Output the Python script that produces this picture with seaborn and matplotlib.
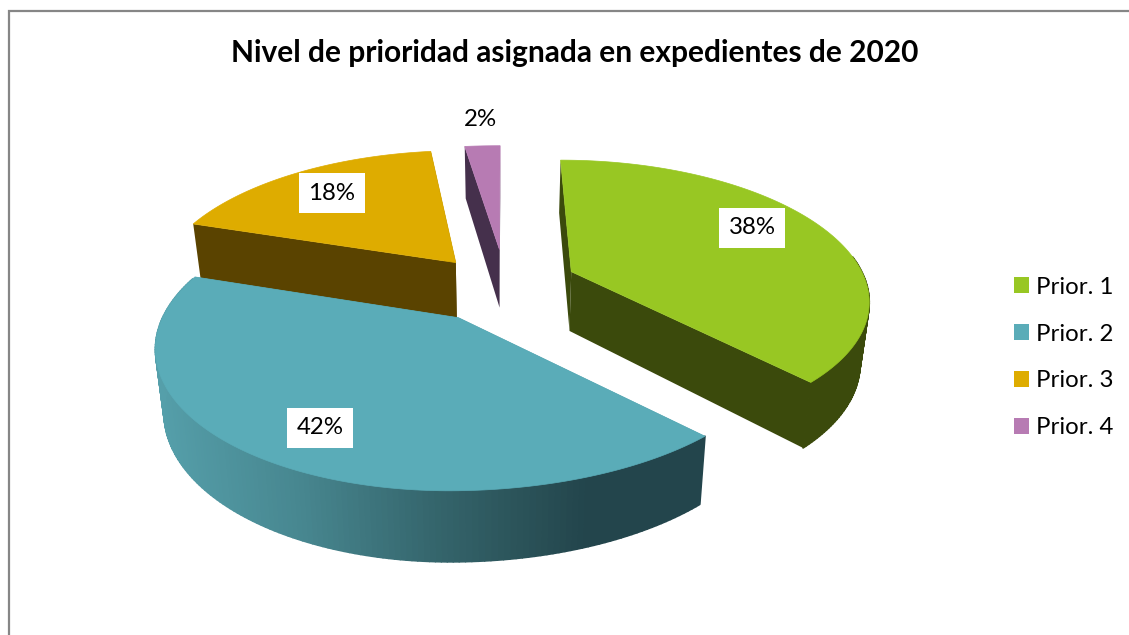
import numpy as np
import matplotlib
matplotlib.use("Agg")
import matplotlib.pyplot as plt
from matplotlib.collections import PolyCollection
from matplotlib.colors import to_rgb
from matplotlib.patches import Patch
import seaborn as sns

# ---- data ----
title = "Nivel de prioridad asignada en expedientes de 2020"
categories = ["Prior. 1", "Prior. 2", "Prior. 3", "Prior. 4"]
shares = [38, 42, 18, 2]

# ---- styles and layout ----
top_colors = ["#98C723", "#5AACB8", "#DEAC00", "#B77BB3"]
side_colors = ["#3B4A0C", "#4A8C96", "#5A4300", "#45304C"]
wall_ramp_x = [155, 300, 430, 520, 585, 705]
wall_ramp_c = ["#559FAA", "#47868F", "#35666D", "#2B5359", "#23454C", "#23454C"]
explode = [0.25, 0.24, 0.22, 0.25]
nudge = [(5, -1), (2, 4), (0, 0), (7, -3)]
scale_left = [1.0, 0.94, 1.0, 1.15]
scale_right = [0.975, 1.01, 0.99, 1.0]
scale_y = [1.0, 0.95, 1.03, 0.98]
draw_order = [3, 2, 0, 1]
label_xy = [(752, 228), (320, 428), (332, 193), (480, 120)]
cx, cy, R, tilt, persp = 497, 285, 303, 0.45, 0.185
depth, foot_shrink = 60, 0.975

sns.set_theme(style="white")
plt.rcParams["font.family"] = ["Lato", "DejaVu Sans"]

fig = plt.figure(figsize=(11.29, 6.35), dpi=100)
ax = fig.add_axes([0, 0, 1, 1])
ax.set_xlim(0, 1129)
ax.set_ylim(635, 0)
ax.axis("off")


def project(x, y, z=0.0):
    s = 1.0 / (1.0 + persp * y)
    shrink = 1.0 - (1.0 - foot_shrink) * z
    return (cx + R * x * s * shrink, cy - R * tilt * y * s + z * depth * s ** 0.7)


def polygon(i, ox, oy, xs, ys, z=0.0):
    px, py = project(np.asarray(xs), np.asarray(ys), z)
    ax0, ay0 = project(ox, oy, z)
    dx, dy = px - ax0, py - ay0
    dx = dx * np.where(dx < 0, scale_left[i], scale_right[i])
    return np.column_stack([ax0 + nudge[i][0] + dx, ay0 + nudge[i][1] + dy * scale_y[i]])


ends = np.cumsum(shares) / np.sum(shares) * 2 * np.pi
starts = np.r_[0, ends[:-1]]

for i in draw_order:
    mid = (starts[i] + ends[i]) / 2
    ox, oy = explode[i] * np.sin(mid), explode[i] * np.cos(mid)
    th = np.linspace(starts[i], ends[i], 160)
    ex, ey = ox + np.sin(th), oy + np.cos(th)

    # two cut faces
    for j in (0, -1):
        fx, fy = [ox, ex[j]], [oy, ey[j]]
        face = np.vstack([polygon(i, ox, oy, fx, fy, 0), polygon(i, ox, oy, fx, fy, 1)[::-1]])
        ax.fill(face[:, 0], face[:, 1], color=side_colors[i], lw=0, zorder=2)

    # outer wall, in small strips, only on the side facing the viewer
    a, b = polygon(i, ox, oy, ex, ey, 0), polygon(i, ox, oy, ex, ey, 1)
    thm = (th[:-1] + th[1:]) / 2
    facing = np.cos(thm) < np.where(np.sin(thm) > 0, 0.12, 0.3)
    quads = [[a[n], a[n + 1], b[n + 1], b[n]] for n in np.flatnonzero(facing)]
    if quads:
        if i == 1:
            ramp = np.array([to_rgb(c) for c in wall_ramp_c])
            xm = ((a[:-1, 0] + a[1:, 0]) / 2)[facing]
            cols = np.column_stack([np.interp(xm, wall_ramp_x, ramp[:, k]) for k in range(3)])
        else:
            cols = [to_rgb(side_colors[i])] * len(quads)
        ax.add_collection(PolyCollection(quads, facecolors=cols, edgecolors=cols, linewidths=1.2, zorder=2))

    # top face
    top = polygon(i, ox, oy, np.r_[ox, ex], np.r_[oy, ey], 0)
    ax.fill(top[:, 0], top[:, 1], color=top_colors[i], lw=0.5, zorder=2)

# percentage labels
for (lx, ly), v in zip(label_xy, shares):
    ax.text(lx, ly, f"{v}%", fontsize=17.3, color="black", ha="center", va="center", zorder=3,
            bbox=dict(facecolor="white", edgecolor="none", pad=6.5))

ax.text(575, 53, title, fontsize=21.5, fontweight="bold", color="black", ha="center", va="center")

handles = [Patch(facecolor=c, edgecolor="none", label=n) for c, n in zip(top_colors, categories)]
ax.legend(handles=handles, loc="center left", bbox_to_anchor=(1014, 357.5), bbox_transform=ax.transData,
          frameon=False, fontsize=17.3, labelcolor="black", handlelength=0.625, handleheight=0.625,
          handletextpad=0.29, labelspacing=1.08, borderpad=0, borderaxespad=0)

# chart frame cut by the image edges
ax.plot([8.5, 8.5, 1129], [635, 11, 11], color="#868686", lw=1.6, solid_joinstyle="miter", zorder=1)

fig.savefig("out.png", dpi=100)
